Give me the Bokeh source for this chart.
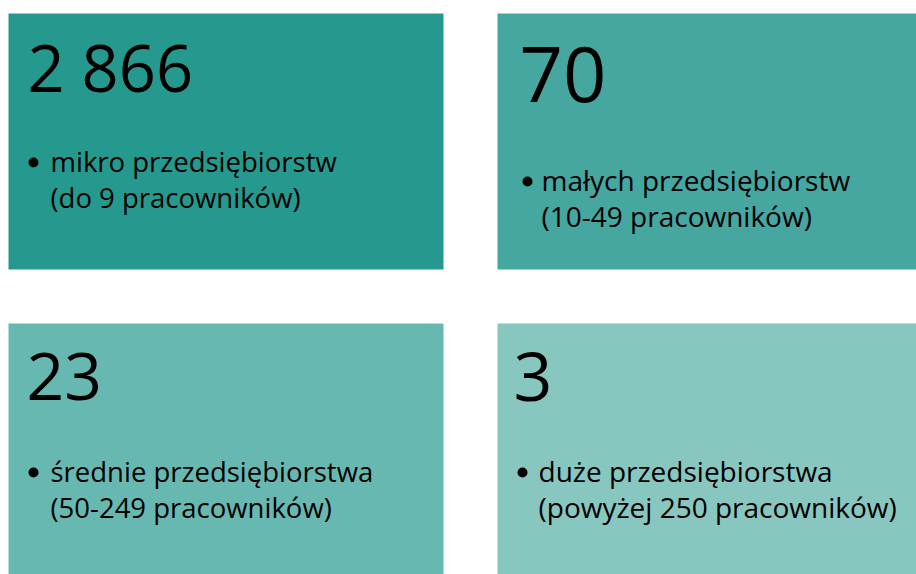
from bokeh.plotting import figure
from bokeh.models import Range1d
from bokeh.core.properties import value
from bokeh.embed import file_html
from bokeh.resources import INLINE

# ---- data ----
counts = ["2 866", "70", "23", "3"]
line1 = ["mikro przedsiębiorstw", "małych przedsiębiorstw",
         "średnie przedsiębiorstwa", "duże przedsiębiorstwa"]
line2 = ["(do 9 pracowników)", "(10-49 pracowników)",
         "(50-249 pracowników)", "(powyżej 250 pracowników)"]

# ---- style ----
tile_colors = ["#26998F", "#46A6A0", "#68B8B2", "#88C6C0"]
num_sizes = [65, 76, 66, 68]
txt_sizes = [27.5, 28, 27.5, 28]
FONT = "Open Sans"
BASE_SHIFT = 0.41  # compensation for rendered baseline offset (em)

W, H = 916, 574
p = figure(width=W, height=H, output_backend="svg", toolbar_location=None,
           x_range=Range1d(0, W), y_range=Range1d(H, 0),
           min_border=0, outline_line_color=None)
p.axis.visible = False
p.grid.visible = False
p.background_fill_color = "white"
p.border_fill_color = "white"

# tile layout (left, right, top, bottom) in page pixels
lefts = [8, 497, 8, 497]
rights = [443, 920, 443, 920]
tops = [13, 13, 323, 323]
bottoms = [269, 269, 580, 580]

p.quad(left=lefts, right=rights, top=tops, bottom=bottoms,
       fill_color=tile_colors, line_color=None)

# positions within tiles (desired baselines)
num_x = [27, 519, 26, 513]
num_y = [93, 105, 403, 404]
bul_x = [33, 527, 33, 522]
bul_y = [162, 181, 472, 472]
txt_x = [50, 541, 50, 538]
l1_y = [172, 191, 482, 482]
l2_y = [208, 227, 518, 518]

p.scatter(x=bul_x, y=bul_y, size=10, marker="circle",
          fill_color="black", line_color=None)

for i in range(4):
    ns = num_sizes[i]
    ts = txt_sizes[i]
    p.text(x=[num_x[i]], y=[num_y[i] - BASE_SHIFT * ns], text=[counts[i]],
           text_font=value(FONT), text_font_size=f"{ns}px",
           text_color="black", text_baseline="alphabetic", text_align="left")
    p.text(x=[txt_x[i], txt_x[i]],
           y=[l1_y[i] - BASE_SHIFT * ts, l2_y[i] - BASE_SHIFT * ts],
           text=[line1[i], line2[i]],
           text_font=value(FONT), text_font_size=f"{ts}px",
           text_color="black", text_baseline="alphabetic", text_align="left")

open("out.html", "w").write(file_html(p, INLINE))
